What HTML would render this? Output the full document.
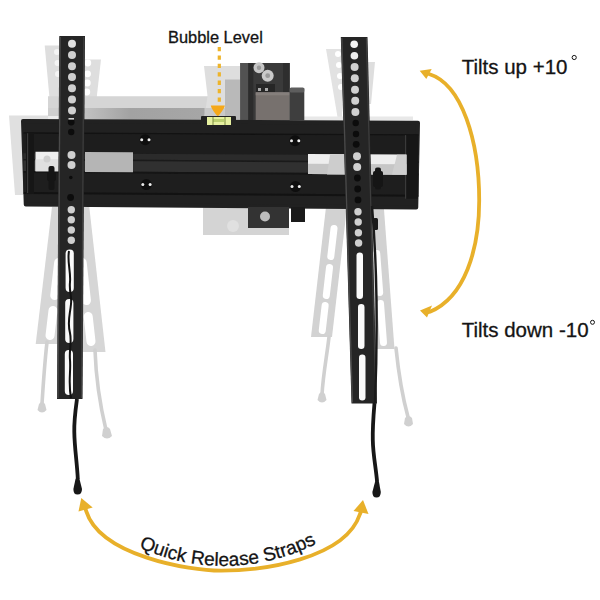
<!DOCTYPE html>
<html><head><meta charset="utf-8">
<style>
html,body{margin:0;padding:0;background:#fff;width:600px;height:600px;overflow:hidden}
svg{display:block}
text{font-family:"Liberation Sans",sans-serif;fill:#141414;stroke:#141414;stroke-width:0.3px}
</style></head><body>
<svg width="600" height="600" viewBox="0 0 600 600">
<defs>
<linearGradient id="bandg" x1="84" y1="0" x2="240" y2="0" gradientUnits="userSpaceOnUse">
<stop offset="0" stop-color="#c2c2c2"/><stop offset="0.3" stop-color="#a2a2a2"/><stop offset="1" stop-color="#a8a8a8"/>
</linearGradient>
</defs>
<rect width="600" height="600" fill="#fff"/>

<!-- ===== GHOSTS (light grey) ===== -->
<g id="ghosts">
  <!-- left bar top ghosts -->
  <polygon points="44.7,45.5 60,45.5 60,120 51.5,120" fill="#dedede"/>
  <polygon points="84,59.5 101,59.5 95.5,108 84,108" fill="#dedede"/>
  <g fill="#fff"><circle cx="87.8" cy="63" r="3.4"/><circle cx="87.6" cy="73.8" r="3.4"/><circle cx="87.3" cy="83" r="3.4"/><circle cx="86.8" cy="92" r="3.4"/></g>
  <g fill="#f4f4f4"><circle cx="57" cy="52" r="3"/><circle cx="57.5" cy="63" r="3"/><circle cx="58" cy="74" r="3"/></g>
  <!-- right bar top ghosts -->
  <polygon points="326,49 342,49 342,120 338,120" fill="#e2e2e2"/>
  <g fill="#fff"><circle cx="338" cy="54" r="3"/><circle cx="339" cy="65" r="3"/><circle cx="340" cy="76" r="3"/><circle cx="341" cy="87" r="3"/></g>
  <polygon points="368,62 375,62 371,104 368,104" fill="#dedede"/>
  <!-- tilted frame ghost above frame -->
  <polygon points="48,96.3 240,96.3 240,120 48,120" fill="#d5d5d5"/>
  <rect x="84" y="108" width="156" height="12" fill="url(#bandg)"/>
  <rect x="48" y="108" width="12" height="12" fill="#cfcfcf"/>
  <rect x="40" y="116" width="20" height="4" fill="#ececec"/>
  <polygon points="9,115.5 48,115.5 48,195 15,195" fill="#e0e0e0"/>
  <polygon points="204,66 240,66 240,120 204,120 207.5,96" fill="#dedede"/>
  <rect x="225" y="79.5" width="15" height="40.5" fill="#b9b9b9"/>
  <rect x="204.5" y="108" width="20.5" height="12" fill="#c9c9c9"/>
  <!-- right ghost near frame top -->
  <rect x="304" y="116.5" width="109" height="3.5" fill="#e8e8e8"/>
  <!-- below-frame ghost block -->
  <rect x="203" y="207" width="86" height="28" fill="#d4d4d4"/>
  <circle cx="233" cy="226" r="6" fill="#e0e0e0"/>

  <!-- lower ghosts -->
<polygon points="52.0,207.0 75.0,207.0 58.7,344.0 35.7,344.0" fill="#d6d6d6"/>
<rect x="52.2" y="257.9" width="9.0" height="42.3" rx="4.5" fill="#fff" transform="rotate(6.79 56.7 279.0)"/>
<rect x="47.0" y="305.9" width="9.0" height="34.2" rx="4.5" fill="#fff" transform="rotate(6.79 51.5 323.0)"/>
<polygon points="89.3,207.0 66.3,207.0 82.5,352.0 105.5,352.0" fill="#d6d6d6"/>
<rect x="79.8" y="257.9" width="9.0" height="47.3" rx="4.5" fill="#fff" transform="rotate(-6.37 84.3 281.5)"/>
<rect x="85.1" y="311.9" width="9.0" height="34.2" rx="4.5" fill="#fff" transform="rotate(-6.37 89.6 329.0)"/>
<polygon points="326.0,207.0 347.0,207.0 332.0,337.0 311.0,337.0" fill="#d2d2d2"/>
<rect x="328.9" y="224.9" width="7.0" height="35.2" rx="3.5" fill="#fff" transform="rotate(6.58 332.4 242.5)"/>
<rect x="324.4" y="263.9" width="7.0" height="35.2" rx="3.5" fill="#fff" transform="rotate(6.58 327.9 281.5)"/>
<rect x="320.2" y="301.9" width="7.0" height="32.2" rx="3.5" fill="#fff" transform="rotate(6.58 323.7 318.0)"/>
<polygon points="383.8,207.0 362.8,207.0 373.5,349.0 394.5,349.0" fill="#d2d2d2"/>
<rect x="374.7" y="249.9" width="7.0" height="46.1" rx="3.5" fill="#fff" transform="rotate(-4.33 378.2 273.0)"/>
<rect x="378.5" y="299.9" width="7.0" height="46.1" rx="3.5" fill="#fff" transform="rotate(-4.33 382.0 323.0)"/>
  <!-- ghost straps -->
  <g stroke="#d0d0d0" stroke-width="3.6" fill="none" stroke-linecap="round">
  <path d="M47,342 C45,360 43.5,380 42,404"/>
  <path d="M95,350 C96,380 100,405 106,430"/>
  <path d="M329,337 C327,355 323,375 322,395"/>
  <path d="M396,348 C398,368 402,395 408,417"/>
  </g>
  <g fill="#d0d0d0">
  <path d="M39,404 Q42,400 45,404 L46.5,410 Q42,415 37.5,410 Z"/>
  <path d="M103,429 Q107,425 110,429 L112,436 Q107,441 102,436 Z"/>
  <path d="M319,394 Q322,390 325,394 L326.5,400 Q322,405 317.5,400 Z"/>
  <path d="M405,418 Q408.5,414 412,418 L413,424 Q408.5,429 404,424 Z"/>
  </g>
</g>

<!-- ===== WALL PLATE / middle bracket ===== -->
<rect x="240.3" y="63" width="49.4" height="57.5" fill="#3a3a3a"/>
<rect x="240.3" y="63" width="8" height="57.5" fill="#525252"/>
<rect x="248.3" y="63" width="5" height="57.5" fill="#2c2c2c"/>
<rect x="283" y="63" width="6.7" height="30" fill="#2e2e2e"/>
<circle cx="259" cy="67.7" r="5.5" fill="#c6c6c6"/>
<circle cx="259" cy="67.7" r="2.2" fill="#9a9a9a"/>
<circle cx="267.7" cy="75.7" r="6" fill="#cacaca"/>
<circle cx="267.7" cy="75.7" r="2.4" fill="#9a9a9a"/>
<rect x="256" y="84" width="19" height="8.5" fill="#262626"/>
<rect x="258" y="88" width="3" height="3" fill="#aaa"/><rect x="265" y="88" width="3" height="3" fill="#aaa"/>
<rect x="255.7" y="92.3" width="34" height="27.7" fill="#77716e"/>
<rect x="255.7" y="92.3" width="34" height="3" fill="#857f7c"/>
<rect x="289.7" y="88.3" width="14.6" height="32" fill="#3e3e3e"/>
<rect x="289.7" y="87.6" width="14.6" height="5" rx="1.5" fill="#5e5e5e"/>

<!-- ===== MAIN FRAME ===== -->
<polygon points="23.00,121.00 418.00,122.75 416.25,207.50 25.75,204.50" fill="#212121" stroke="#212121" stroke-width="4" stroke-linejoin="round"/>
<polygon points="23.50,132.27 418.50,134.18 418.50,135.69 23.50,133.76" fill="#121212"/>
<polygon points="23.50,133.76 418.50,135.69 418.50,155.36 23.50,153.15" fill="#1d1d1d"/>
<polygon points="23.50,153.15 418.50,155.36 418.50,161.41 23.50,159.12" fill="#2b2b2b"/>
<polygon points="23.50,159.12 418.50,161.41 418.50,162.93 23.50,160.61" fill="#1a1a1a"/>
<polygon points="23.50,160.61 418.50,162.93 418.50,173.52 23.50,171.06" fill="#303030"/>
<polygon points="23.50,171.06 418.50,173.52 418.50,175.54 23.50,173.04" fill="#151515"/>
<polygon points="23.50,173.04 418.50,175.54 418.50,194.70 23.50,191.94" fill="#1e1e1e"/>
<polygon points="23.50,191.94 418.50,194.70 418.50,196.72 23.50,193.93" fill="#121212"/>
<polygon points="26.00,132.28 34.00,132.32 34.00,194.01 26.00,193.95" fill="#161616"/>
<polygon points="27.00,133.28 28.20,133.28 28.20,192.97 27.00,192.96" fill="#3a3a3a"/>
<polygon points="405.00,135.12 418.00,135.19 418.00,198.73 405.00,198.64" fill="#161616"/>
<polygon points="405.00,135.12 406.20,135.13 406.20,198.65 405.00,198.64" fill="#3a3a3a"/>
<polygon points="35.50,151.63 59.50,151.76 59.50,171.28 35.50,171.13" fill="#f0f0f0"/>
<polygon points="35.50,159.19 59.50,159.33 59.50,171.28 35.50,171.13" fill="#e0e0e0"/>
<circle cx="47" cy="159" r="3.5" fill="#d0d0d0"/>
<polygon points="85.00,152.00 133.00,152.27 133.00,172.24 85.00,171.94" fill="#b5b5b5"/>
<polygon points="308.00,153.94 406.50,154.49 406.50,174.65 308.00,174.04" fill="#eeeeee"/>
<polygon points="308.00,163.79 406.50,164.37 406.50,174.65 308.00,174.04" fill="#c6c6c6"/>
<polygon points="330,154.8 346,154.8 345,174.5 327,174.5" fill="#cdcdcd"/>
<polygon points="397,154.8 406.5,154.8 406.5,174.5 392,174.5" fill="#cfcfcf"/>
<!-- bolts -->
<circle cx="145.2" cy="139.7" r="5.5" fill="#0e0e0e"/><circle cx="141.7" cy="139.7" r="1.5" fill="#e8e8e8"/><circle cx="149.0" cy="139.7" r="1.5" fill="#f0f0f0"/>
<circle cx="146.3" cy="184.6" r="5.5" fill="#0e0e0e"/><circle cx="142.8" cy="184.6" r="1.5" fill="#e8e8e8"/><circle cx="150.1" cy="184.6" r="1.5" fill="#f0f0f0"/>
<circle cx="295.0" cy="140.7" r="5.5" fill="#0e0e0e"/><circle cx="291.5" cy="140.7" r="1.5" fill="#e8e8e8"/><circle cx="298.8" cy="140.7" r="1.5" fill="#f0f0f0"/>
<circle cx="295.5" cy="186.5" r="5.5" fill="#0e0e0e"/><circle cx="292.0" cy="186.5" r="1.5" fill="#e8e8e8"/><circle cx="299.3" cy="186.5" r="1.5" fill="#f0f0f0"/>
<!-- knobs -->
<rect x="48.5" y="166" width="6" height="24" rx="2" fill="#151515"/><rect x="47" y="172" width="9" height="9" rx="2" fill="#151515"/>
<rect x="373" y="171" width="10" height="16" rx="2" fill="#151515"/><rect x="375" y="167.5" width="6" height="22" rx="2" fill="#151515"/>

<!-- bubble level -->
<rect x="201" y="116" width="35" height="11.5" rx="1" fill="#222"/>
<rect x="207" y="117" width="24" height="8" fill="#e6f0a0"/>
<rect x="213" y="119" width="11" height="3" fill="#bcd070"/>
<rect x="212.5" y="117" width="1" height="8" fill="#7a8a40"/>
<rect x="224.5" y="117" width="1" height="8" fill="#7a8a40"/>

<!-- below frame dark plate -->
<rect x="248" y="207" width="41" height="21" fill="#333"/>
<circle cx="265" cy="216.5" r="5" fill="#bdbdbd"/>
<rect x="291" y="207" width="14" height="15" fill="#1a1a1a"/>

<!-- ===== LEFT BAR ===== -->
<polygon points="59.3,36 85,36 82.5,399 57,399" fill="#252525"/>
<path d="M60.2,37 L57.9,398" stroke="#4a4a4a" stroke-width="1.3"/>
<path d="M83.8,37 L81.5,398" stroke="#3e3e3e" stroke-width="1.2"/>
<g fill="#cfcfcf">
  <circle cx="72" cy="43.8" r="4" fill="#e2e2e2"/><circle cx="72" cy="55" r="4"/>
  <circle cx="72" cy="66.3" r="4"/><circle cx="72" cy="77" r="4"/>
  <circle cx="72" cy="88.3" r="4"/><circle cx="72" cy="99.5" r="4"/>
  <circle cx="72" cy="110.5" r="4"/>
  <circle cx="71.5" cy="155" r="4"/><circle cx="71.5" cy="165" r="4"/>
  <circle cx="71.3" cy="209.7" r="3.7"/><circle cx="71.3" cy="219.7" r="3.7"/>
  <circle cx="71.3" cy="230" r="3.7"/><circle cx="71.3" cy="240.3" r="3.7"/>
</g>
<g fill="#0c0c0c">
  <circle cx="71.2" cy="122" r="3.4"/><circle cx="71.2" cy="132" r="3.2"/>
  <circle cx="70.8" cy="177.5" r="1.8"/><circle cx="70.6" cy="197.5" r="3.4"/>
</g>
<rect x="68.5" y="118" width="5.5" height="1.6" fill="#cfcfcf"/>
<g fill="#fafafa">
  <rect x="65.6" y="249.6" width="8.2" height="42.4" rx="4"/>
  <rect x="65.2" y="299" width="8.2" height="44" rx="4"/>
  <rect x="64.8" y="350" width="8.2" height="45" rx="4"/>
</g>
<path d="M69,251 C67,262 71,272 70,282 C69,292 72,296 71,304 C70,315 67,322 70,333 C72,342 69,350 70,360 C71,372 68,382 71,398" stroke="#111" stroke-width="2" fill="none"/>

<!-- ===== RIGHT BAR ===== -->
<polygon points="340.8,37 367.5,37 377,403.5 351.5,403.5" fill="#252525"/>
<path d="M341.8,38 L352.4,402.5" stroke="#4a4a4a" stroke-width="1.3"/>
<path d="M366.4,38 L375.9,402.5" stroke="#3e3e3e" stroke-width="1.2"/>
<g fill="#d0d0d0">
  <circle cx="354.2" cy="44.2" r="3.8" fill="#f4f4f4"/><circle cx="354.4" cy="55.8" r="3.8" fill="#eeeeee"/>
  <circle cx="354.6" cy="67" r="4"/><circle cx="354.8" cy="78.3" r="4"/>
  <circle cx="355" cy="89.7" r="4"/><circle cx="355.2" cy="100.8" r="4"/>
  <circle cx="355.4" cy="112" r="4"/>
  <circle cx="357" cy="156.3" r="4"/><circle cx="357.2" cy="167" r="4"/>
  <circle cx="358" cy="211.7" r="3.7"/><circle cx="358.2" cy="222" r="3.7"/>
  <circle cx="358.4" cy="232.7" r="3.7"/><circle cx="358.6" cy="243" r="3.7"/>
</g>
<g fill="#0c0c0c">
  <circle cx="355.7" cy="123" r="3.2"/><circle cx="356" cy="134" r="3.2"/><circle cx="356.2" cy="144.3" r="3.4"/>
  <circle cx="357.4" cy="178" r="3.4"/><circle cx="357.7" cy="189" r="3.4"/><circle cx="358" cy="199.9" r="3.4"/>
</g>
<g fill="#fafafa">
  <rect x="356.5" y="252.5" width="6.5" height="46.5" rx="3.2"/>
  <rect x="358" y="304" width="6.5" height="45" rx="3.2"/>
  <rect x="359" y="354.5" width="6.5" height="46" rx="3.2"/>
</g>
<path d="M372,206 C374,230 376,260 376.5,300 C377,340 376,380 375,403" stroke="#1a1a1a" stroke-width="2.4" fill="none"/>
<rect x="373" y="218" width="5" height="12" rx="1.5" fill="#1a1a1a"/>

<!-- black straps -->
<path d="M77,399 C75.5,410 74,420 74.3,432 C74.5,448 77,462 77.8,479" stroke="#171717" stroke-width="3.8" fill="none"/>
<path d="M75.5,479 Q77.5,476 79.5,479 L82,489 Q82,494.5 77.5,494.5 Q73.2,494.5 73.4,489 Z" fill="#171717"/>
<path d="M374.5,403 C373.5,415 372.5,428 372.8,440 C373,455 376,468 377.1,482" stroke="#171717" stroke-width="3.8" fill="none"/>
<path d="M375,482 Q377,479 379,482 L380.8,492 Q380.8,497.5 376.5,497.5 Q372.3,497.5 372.4,492 Z" fill="#171717"/>

<!-- ===== ANNOTATIONS ===== -->
<!-- bubble level dashed arrow -->
<line x1="219.3" y1="47" x2="219.3" y2="102" stroke="#eeb42a" stroke-width="3.2" stroke-dasharray="4.3 4.1"/>
<path d="M210.8,105.5 L224.8,105.5 Q224.8,108 218.8,115.5 Q217.8,116.3 216.8,115.5 Q210.8,108 210.8,105.5 Z" fill="#f5a81a"/>
<text x="168" y="42.5" font-size="16.4">Bubble Level</text>

<!-- right tilt arc -->
<path d="M426,73 L429,74 C462.2,84.2 479.2,141.5 479.2,200.4 C479.2,249.9 464.6,297.2 430,311.7 L427,312.5" stroke="#e8b02a" stroke-width="3.8" fill="none"/>
<polygon points="419.7,70.7 431.7,69 426.3,79" fill="#e8b02a"/>
<polygon points="420,310.5 432,305.5 427,317.5" fill="#e8b02a"/>
<text x="461.7" y="74" font-size="20.5">Tilts up +10</text>
<circle cx="574.2" cy="57.5" r="2.1" fill="none" stroke="#141414" stroke-width="1"/>
<text x="461.7" y="336.7" font-size="20.5">Tilts down -10</text>
<circle cx="592.5" cy="322.3" r="2" fill="none" stroke="#141414" stroke-width="1"/>

<!-- bottom arc -->
<path d="M85.3,508.3 L86.3,511.3 C100.2,555.6 189.0,570.7 221.2,570.7 C261.5,570.7 345.1,559.4 360,514 L361.2,511" stroke="#e8b02a" stroke-width="3.8" fill="none"/>
<polygon points="81.3,498 78.5,511.5 92.7,507.5" fill="#e8b02a"/>
<polygon points="363,500 353.5,511 368.5,514" fill="#e8b02a"/>
<path id="tp" d="M120,538 C188.9,576.9 268,575.2 335,533" fill="none"/>
<text font-size="19"><textPath href="#tp" startOffset="21">Quick Release Straps</textPath></text>
</svg>
</body></html>
